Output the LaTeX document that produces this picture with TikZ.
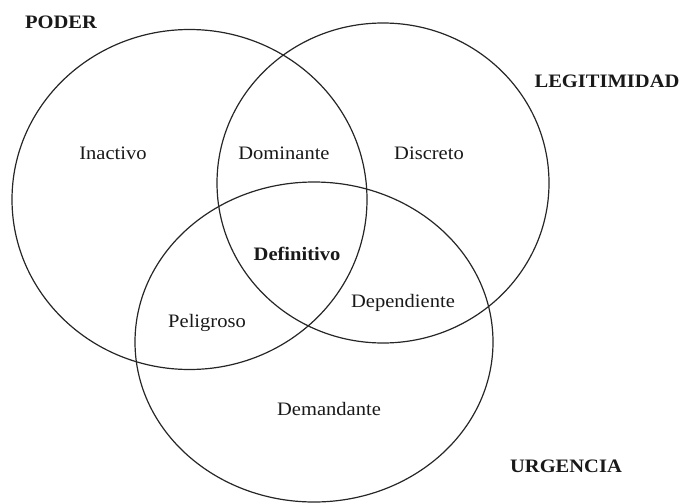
\documentclass[tikz,border=0pt]{standalone}
\usepackage{fontspec}
\setmainfont{Liberation Serif}[FakeStretch=1.08]
\begin{document}
\begin{tikzpicture}[x=1pt,y=-1pt,
  ring/.style={draw=black!85,line width=1.2pt},
  lbl/.style={font=\fontsize{19}{22}\selectfont,inner sep=0pt,text=black!90},
  head/.style={font=\fontsize{19}{22}\selectfont\bfseries,inner sep=0pt,text=black!90}]
\useasboundingbox (0,0) rectangle (684,503);
\draw[ring] (189.5,199.5) ellipse [x radius=177.5, y radius=170];
\draw[ring] (383,183) ellipse [x radius=166, y radius=160];
\draw[ring] (314,342) ellipse [x radius=179, y radius=160];
\node[head] (poder) at (61,22) {PODER};
\node[head] (legit) at (607,81) {LEGITIMIDAD};
\node[head] (urg) at (566,466) {URGENCIA};
\node[lbl] (inac) at (113,153) {Inactivo};
\node[lbl] (dom) at (284,153) {Dominante};
\node[lbl] (disc) at (429,153) {Discreto};
\node[head] (def) at (297,254) {Definitivo};
\node[lbl] (dep) at (403,303) {Dependiente};
\node[lbl] (pel) at (207,323) {Peligroso};
\node[lbl] (dem) at (329,409) {Demandante};
\end{tikzpicture}
\end{document}
